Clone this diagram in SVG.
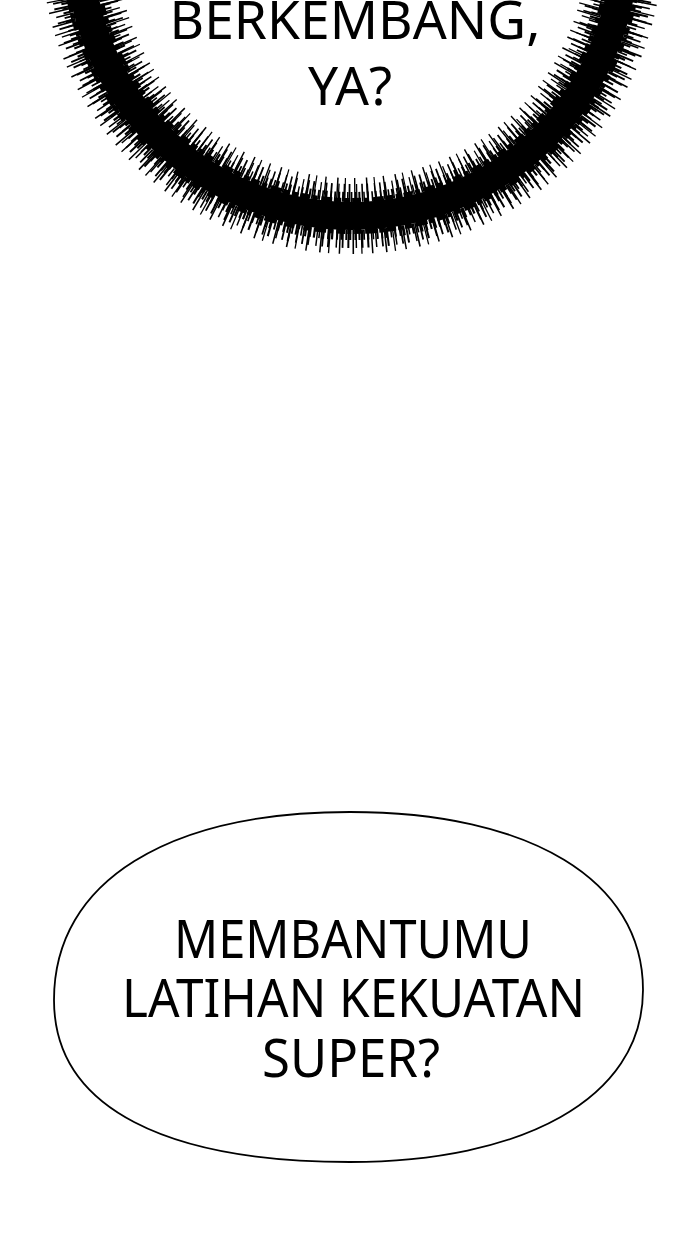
<svg xmlns="http://www.w3.org/2000/svg" width="700" height="1240" viewBox="0 0 700 1240">
<style>
.t{font-family:"Noto Sans","Open Sans","DejaVu Sans",sans-serif;font-size:52px;fill:#000;text-anchor:middle}
.f{fill:none;stroke:#000}
</style>
<rect width="700" height="1240" fill="#fff"/>
<g id="bubble-top">
<circle class="f" cx="352" cy="-57" r="273" stroke-width="28"/>
<circle class="f" cx="352" cy="-57" r="288" stroke-width="6" stroke-dasharray="9 3 5 2 12 4 7 3 4 2"/>
<circle class="f" cx="352" cy="-57" r="258" stroke-width="6" stroke-dasharray="7 2 11 4 5 3 9 2 6 3"/>
<circle class="f" cx="352" cy="-57" r="292" stroke-width="10" stroke-dasharray="2 2.4 1.6 3.2 2.2 2 1.8 2.8"/>
<circle class="f" cx="352" cy="-57" r="296" stroke-width="18" stroke-dasharray="1.8 4.5 1.5 6.2 2 3.8" stroke-dashoffset="2"/>
<circle class="f" cx="352" cy="-57" r="299" stroke-width="24" stroke-dasharray="1.5 9 1.3 7 1.6 12" stroke-dashoffset="5"/>
<circle class="f" cx="352" cy="-57" r="254" stroke-width="10" stroke-dasharray="1.8 2.2 1.5 3 2 1.9 1.6 2.6"/>
<circle class="f" cx="352" cy="-57" r="250" stroke-width="18" stroke-dasharray="1.6 4.2 1.3 5.8 1.8 3.6" stroke-dashoffset="3"/>
<circle class="f" cx="352" cy="-57" r="247" stroke-width="24" stroke-dasharray="1.4 8.5 1.2 6.5 1.5 11" stroke-dashoffset="7"/>
<text class="t" x="355" y="39" textLength="371" lengthAdjust="spacingAndGlyphs">BERKEMBANG,</text>
<text class="t" x="350" y="105" textLength="84" lengthAdjust="spacingAndGlyphs">YA?</text>
</g>
<g id="bubble-bottom">
<path fill="#fff" stroke="#000" stroke-width="1.8" d="M350 812C530 812 643 880 643 990C643 1100 520 1162 350 1162C170 1162 54 1110 54 1000C54 880 170 812 350 812Z"/>
<text class="t" x="353" y="958" textLength="358" lengthAdjust="spacingAndGlyphs">MEMBANTUMU</text>
<text class="t" x="353.5" y="1017" textLength="463" lengthAdjust="spacingAndGlyphs">LATIHAN KEKUATAN</text>
<text class="t" x="351" y="1077" textLength="178" lengthAdjust="spacingAndGlyphs">SUPER?</text>
</g>
</svg>
